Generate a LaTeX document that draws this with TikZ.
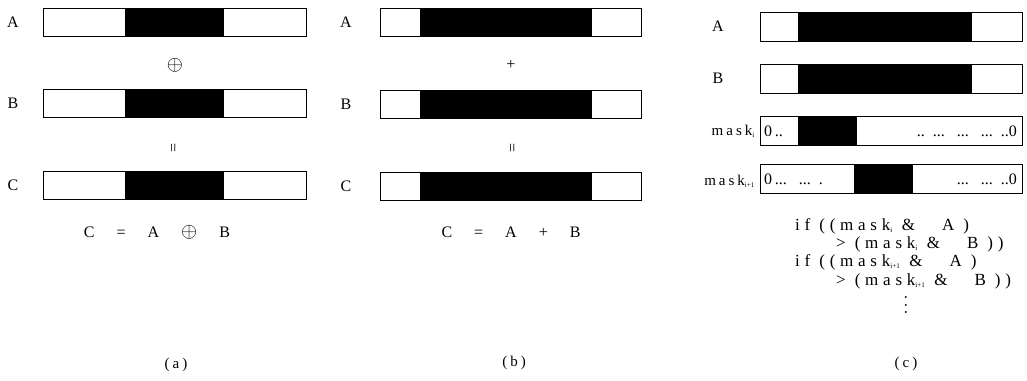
\documentclass[tikz,border=0pt]{standalone}
\usepackage{fontspec}
\setmainfont{Liberation Serif}
\newfontfamily\spaced[LetterSpace=20]{Liberation Serif}
\newfontfamily\wide[LetterSpace=28]{Liberation Serif}

\tikzset{
  bar/.style={draw=black, line width=1pt},
  solid part/.style={fill=black},
  lbl/.style={inner sep=0pt},
  capt/.style={inner sep=0pt, font=\fontsize{15}{17}\selectfont\spaced},
  codeline/.style={anchor=west, inner sep=0pt, font=\fontsize{17}{19}\selectfont\wide},
}

\begin{document}
\begin{tikzpicture}[x=1pt, y=-1pt, font=\fontsize{16}{18}\selectfont]
\useasboundingbox (0,0) rectangle (1027,380);
% (a) exclusive or
\foreach \y/\t in {8/A, 89/B, 171/C} {
  \fill[solid part] (125,\y) rectangle (224,\y+28);
  \draw[bar] (43,\y) rectangle (306,\y+28);
  \node[lbl] (a\t) at (13,\y+14) {\t};
}
\node[lbl, scale=1.2] (aop) at (175,65) {$\oplus$};
\node[lbl, rotate=90] (aeq) at (175,148) {=};
\node[lbl] (aform) at (157,232) {C\hspace{22pt}=\hspace{22pt}A\hspace{22pt}\scalebox{1.2}{$\oplus$}\hspace{22pt}B};
\node[capt] (acap) at (176,365) {(a)};
% (b) sum
\foreach \y/\t in {8/A, 90/B, 172/C} {
  \fill[solid part] (420,\y) rectangle (592,\y+28);
  \draw[bar] (380,\y) rectangle (641,\y+28);
  \node[lbl] (b\t) at (346,\y+14) {\t};
}
\node[lbl] (bop) at (511,65) {+};
\node[lbl, rotate=90] (beq) at (514,148) {=};
\node[lbl] (bform) at (511,232) {C\hspace{22pt}=\hspace{22pt}A\hspace{22pt}+\hspace{22pt}B};
\node[capt] (bcap) at (514,363) {(b)};
% (c) masked compare
\foreach \y/\t in {12/A, 64/B} {
  \fill[solid part] (798,\y) rectangle (972,\y+29);
  \draw[bar] (760,\y) rectangle (1022,\y+29);
  \node[lbl] (c\t) at (718,\y+14) {\t};
}
\fill[solid part] (798,116) rectangle (857,145);
\draw[bar] (760,116) rectangle (1022,145);
\node[lbl, anchor=west] (mil) at (764,131) {0\,..};
\node[lbl, anchor=east] (mir) at (1017,131) {..\ \ ...\ \ \ ...\ \ \ ...\ \ ..0};
\node[lbl, anchor=east, font=\fontsize{15}{17}\selectfont\spaced] (cmi) at (755,131) {mask$_{\textrm{\scriptsize i}}$};
\fill[solid part] (854,164) rectangle (913,193);
\draw[bar] (760,164) rectangle (1022,193);
\node[lbl, anchor=west] (mjl) at (764,179) {0\,...\ \ \ ...\ \ .};
\node[lbl, anchor=east] (mjr) at (1017,179) {...\ \ \ ...\ \ ..0};
\node[lbl, anchor=east, font=\fontsize{15}{17}\selectfont\spaced] (cmj) at (755,181) {mask$_{\textrm{\scriptsize i+1}}$};
% code
\node[codeline] (l1) at (795,226) {if ((mask$_{\textrm{\scriptsize i}}$ \& \ \ A )};
\node[codeline] (l2) at (836,244) {> (mask$_{\textrm{\scriptsize i}}$ \& \ \ B ))};
\node[codeline] (l3) at (795,262) {if ((mask$_{\textrm{\scriptsize i+1}}$ \& \ \ A )};
\node[codeline] (l4) at (836,281) {> (mask$_{\textrm{\scriptsize i+1}}$ \& \ \ B ))};
\node[lbl, rotate=90, font=\fontsize{16}{18}\selectfont\spaced] (dots) at (906,305) {...};
\node[capt] (ccap) at (906,364) {(c)};
\end{tikzpicture}
\end{document}
